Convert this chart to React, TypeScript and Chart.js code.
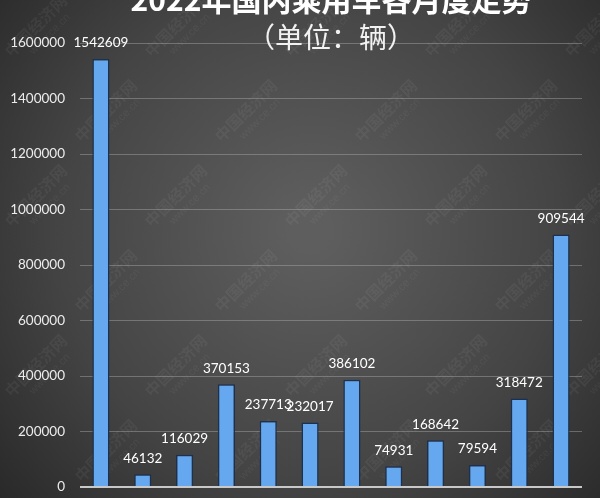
import React, { useEffect, useRef } from "react";
import { Chart, registerables } from "chart.js";

Chart.register(...registerables);

const months = ["1月", "2月", "3月", "4月", "5月", "6月", "7月", "8月", "9月", "10月", "11月", "12月"];
const sales = [1542609, 46132, 116029, 370153, 237713, 232017, 386102, 74931, 168642, 79594, 318472, 909544];
const titleText = "2022年国内乘用车各月度走势";
const subtitleText = "（单位：辆）";
const watermarkText = ["中国经济网", "www.ce.cn"];
const yMax = 1600000;
const yStep = 200000;

const backgroundPlugin = {
  id: "bg",
  beforeDraw(chart: any) {
    const { ctx, width, height } = chart;
    ctx.save();
    const g = ctx.createRadialGradient(310, 230, 20, 310, 230, 440);
    g.addColorStop(0, "#5e5e5e");
    g.addColorStop(0.55, "#444444");
    g.addColorStop(1, "#242424");
    ctx.fillStyle = g;
    ctx.fillRect(0, 0, width, height);
    ctx.fillStyle = "rgba(255,255,255,0.05)";
    ctx.textAlign = "center";
    ctx.textBaseline = "middle";
    for (let row = -1; row < 7; row++) {
      for (let col = -1; col < 6; col++) {
        const x = col * 140 + (row % 2 ? 70 : 0) + 40;
        const y = row * 85 + 30;
        ctx.save();
        ctx.translate(x, y);
        ctx.rotate(-Math.PI / 4);
        ctx.font = "bold 16px 'Noto Sans CJK SC'";
        ctx.fillText(watermarkText[0], 0, -6);
        ctx.font = "11px 'Liberation Sans'";
        ctx.fillText(watermarkText[1], 4, 10);
        ctx.restore();
      }
    }
    ctx.restore();
  },
  afterDraw(chart: any) {
    const { ctx, chartArea } = chart;
    const cx = (chartArea.left + chartArea.right) / 2;
    ctx.save();
    ctx.textAlign = "center";
    ctx.textBaseline = "middle";
    ctx.fillStyle = "#ffffff";
    ctx.font = "bold 30px 'Noto Sans CJK SC'";
    ctx.fillText(titleText, cx, 0);
    ctx.fillStyle = "#f2f2f2";
    ctx.font = "28px 'Noto Sans CJK SC'";
    ctx.fillText(subtitleText, cx, 37);
    ctx.restore();
  },
};

const labelPlugin = {
  id: "barLabels",
  afterDatasetsDraw(chart: any) {
    const { ctx } = chart;
    const meta = chart.getDatasetMeta(0);
    ctx.save();
    ctx.fillStyle = "#ffffff";
    ctx.font = "13.5px Lato";
    ctx.textAlign = "center";
    ctx.textBaseline = "middle";
    meta.data.forEach((bar: any, i: number) => {
      ctx.fillText(String(sales[i]), bar.x, bar.y - 16);
    });
    ctx.restore();
  },
};

export default function App() {
  const ref = useRef<HTMLCanvasElement | null>(null);
  useEffect(() => {
    document.body.style.margin = "0";
    if (!ref.current) return;
    const chart = new Chart(ref.current, {
      type: "bar",
      data: {
        labels: months,
        datasets: [
          {
            data: sales,
            backgroundColor: "#66a8ef",
            borderColor: "#1c3150",
            borderWidth: 1.5,
            barPercentage: 0.41,
            categoryPercentage: 1,
          },
        ],
      },
      options: {
        animation: false,
        responsive: false,
        maintainAspectRatio: false,
        layout: { padding: { top: 43, bottom: 11, left: 10, right: 18 } },
        plugins: {
          legend: { display: false },
          title: { display: false },
          tooltip: { enabled: false },
        },
        scales: {
          x: {
            display: false,
          },
          y: {
            min: 0,
            max: yMax,
            ticks: {
              stepSize: yStep,
              color: "#ececec",
              font: { family: "Lato", size: 13.5 },
              padding: 15,
              callback: (v: any) => String(v),
            },
            grid: {
              drawTicks: false,
              color: (c: any) => (c.tick && c.tick.value === 0 ? "#c8c8c8" : "rgba(170,170,170,0.45)"),
              lineWidth: (c: any) => (c.tick && c.tick.value === 0 ? 2 : 1),
            },
            border: { display: false },
            afterFit(scale: any) {
              scale.width = 70;
              scale.paddingTop = 0;
              scale.paddingBottom = 0;
            },
          },
        },
      },
      plugins: [backgroundPlugin, labelPlugin],
    });
    return () => chart.destroy();
  }, []);
  return (
    <div style={{ width: 600, height: 498 }}>
      <canvas ref={ref} width={600} height={498} style={{ display: "block" }} />
    </div>
  );
}
